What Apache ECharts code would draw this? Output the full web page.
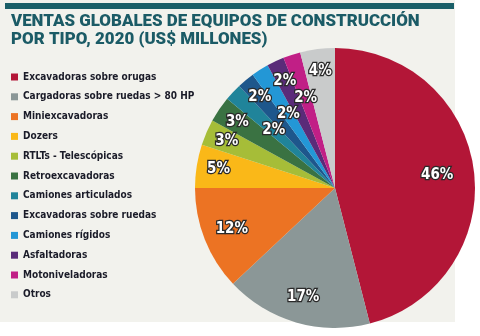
<!DOCTYPE html>
<html>
<head>
<meta charset="utf-8">
<script src="https://cdn.jsdelivr.net/npm/echarts@6/dist/echarts.min.js"></script>
<style>html,body{margin:0;padding:0;background:#ffffff;}#c{width:480px;height:336px;}</style>
</head>
<body>
<div id="c"></div>
<script>
const titleText = 'VENTAS GLOBALES DE EQUIPOS DE CONSTRUCCIÓN\nPOR TIPO, 2020 (US$ MILLONES)';
const categories = ['Excavadoras sobre orugas','Cargadoras sobre ruedas > 80 HP','Miniexcavadoras','Dozers','RTLTs - Telescópicas','Retroexcavadoras','Camiones articulados','Excavadoras sobre ruedas','Camiones rígidos','Asfaltadoras','Motoniveladoras','Otros'];
const shares = [46,17,12,5,3,3,2,2,2,2,2,4];

const colors = ['#b31637','#8b9797','#ec7323','#fab818','#a6bd38','#3a7242','#20849a','#1e578c','#2397d6','#5a2b79','#c11f86','#c9cbcb'];
const C = [335,188], R = 140;
// inner radius of transparent label rings: label sits at (r0 + R) / 2
const labelRing = {0: 60, 1: 82, 2: 76, 6: 22, 8: 28, 10: 44};
const defaultRing = 90;
const condensed = "'DejaVu Sans Condensed', 'Liberation Sans Narrow', 'Roboto', sans-serif";

const labelStyle = {
  show: true, position: 'inside', formatter: '{c}%', color: '#ffffff',
  fontFamily: condensed, fontWeight: 'bold', fontSize: 15,
  textBorderColor: '#2a2a2a', textBorderWidth: 2.5
};
const ringValues = Array.from(new Set(categories.map((_, i) => labelRing[i] ?? defaultRing)));
const overlays = ringValues.map(r0 => ({
  type: 'pie', center: C, radius: [r0, R], startAngle: 90, silent: true,
  avoidLabelOverlap: false, labelLine: {show: false},
  labelLayout: {hideOverlap: false},
  itemStyle: {color: 'rgba(0,0,0,0)'},
  label: labelStyle, z: 3,
  data: categories.map((n, i) => ({name: n, value: shares[i],
    label: {show: (labelRing[i] ?? defaultRing) === r0}}))
}));

const chart = echarts.init(document.getElementById('c'), null, {renderer: 'canvas'});
chart.setOption({
  animation: false,
  color: colors,
  graphic: [
    {type: 'rect', shape: {x: 0, y: 0, width: 455, height: 322}, style: {fill: '#f2f2ed'}, z: -10},
    {type: 'rect', shape: {x: 5, y: 3, width: 449, height: 6}, style: {fill: '#1a5f68'}, z: -9}
  ],
  title: {
    text: titleText, left: 11, top: 13, padding: 0,
    textStyle: {fontFamily: 'Roboto', fontWeight: 900, fontSize: 16.9, lineHeight: 17.6, color: '#1b5b66'}
  },
  legend: {
    orient: 'vertical', left: 11, top: 70, padding: 0,
    icon: 'rect', itemWidth: 7, itemHeight: 7, itemGap: 5.8,
    selectedMode: false,
    textStyle: {fontFamily: condensed, fontWeight: 'bold', fontSize: 10, lineHeight: 14, color: '#1a1b28'},
    data: categories
  },
  series: [
    {
      type: 'pie', center: C, radius: [0, R], startAngle: 90, silent: true,
      label: {show: false}, labelLine: {show: false},
      data: categories.map((n, i) => ({name: n, value: shares[i]}))
    }
  ].concat(overlays)
});
</script>
</body>
</html>
